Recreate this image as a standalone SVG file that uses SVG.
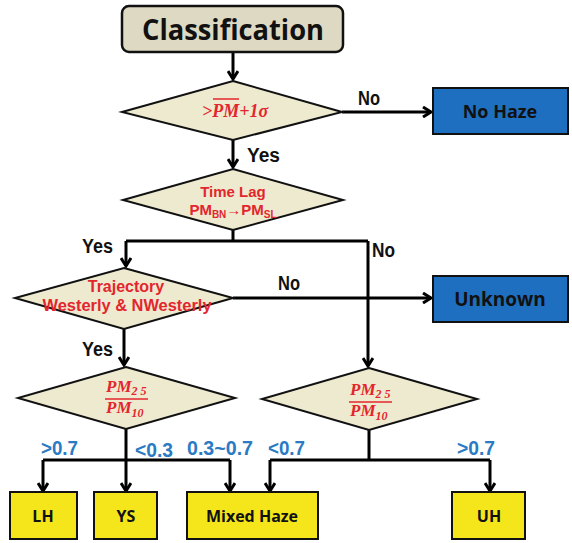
<svg xmlns="http://www.w3.org/2000/svg" width="572" height="543" viewBox="0 0 572 543">
<defs>
<style>
.dia{fill:#eeead0;stroke:#111;stroke-width:2}
.blue{fill:#1f6fc1;stroke:#111;stroke-width:2}
.yel{fill:#f4e61a;stroke:#111;stroke-width:2}
.con{fill:none;stroke:#000;stroke-width:3}
.arr{fill:none;stroke:#000;stroke-width:3;marker-end:url(#ah)}
.lbl{font-family:"Liberation Sans",Arial,sans-serif;font-weight:bold;font-size:20px;fill:#111}
.val{font-family:"Liberation Sans",Arial,sans-serif;font-weight:bold;font-size:20px;fill:#2a7ac4}
.box{font-family:"Open Sans","Noto Sans",sans-serif;font-weight:bold;fill:#111;text-anchor:middle}
.red{font-family:"Liberation Sans",Arial,sans-serif;font-weight:bold;fill:#e3262d;text-anchor:middle}
.math{font-family:"Liberation Serif","Times New Roman",serif;font-weight:bold;font-style:italic;fill:#e3262d}
</style>
<marker id="ah" markerWidth="12" markerHeight="12" viewBox="0 0 12 12" refX="10" refY="6" orient="auto" markerUnits="userSpaceOnUse">
<path d="M2,1 L10,6 L2,11" fill="none" stroke="#000" stroke-width="3"/>
</marker>
</defs>

<g id="connectors">
<line class="arr" x1="233" y1="52" x2="233" y2="79"/>
<line class="arr" x1="342" y1="112" x2="431" y2="112"/>
<line class="arr" x1="233" y1="140" x2="233" y2="167"/>
<polyline class="con" points="233,230 233,241"/>
<polyline class="con" points="126,241 368,241"/>
<line class="arr" x1="126" y1="241" x2="126" y2="266"/>
<line class="arr" x1="368" y1="241" x2="368" y2="366"/>
<line class="arr" x1="233" y1="298" x2="431" y2="298"/>
<line class="arr" x1="124" y1="329" x2="124" y2="365"/>
<polyline class="con" points="126,429 126,460"/>
<polyline class="con" points="43,460 230,460"/>
<line class="arr" x1="43" y1="460" x2="43" y2="491"/>
<line class="arr" x1="126" y1="460" x2="126" y2="491"/>
<line class="arr" x1="230" y1="460" x2="230" y2="491"/>
<polyline class="con" points="369,430 369,460"/>
<polyline class="con" points="270,460 490,460"/>
<line class="arr" x1="270" y1="460" x2="270" y2="491"/>
<line class="arr" x1="490" y1="460" x2="490" y2="491"/>
<text class="lbl" x="358" y="105" textLength="22" lengthAdjust="spacingAndGlyphs">No</text>
<text class="lbl" x="247" y="162" textLength="33" lengthAdjust="spacingAndGlyphs">Yes</text>
<text class="lbl" x="82" y="253" textLength="31" lengthAdjust="spacingAndGlyphs">Yes</text>
<text class="lbl" x="372" y="257" textLength="23" lengthAdjust="spacingAndGlyphs">No</text>
<text class="lbl" x="278" y="290" textLength="22" lengthAdjust="spacingAndGlyphs">No</text>
<text class="lbl" x="82" y="356" textLength="31" lengthAdjust="spacingAndGlyphs">Yes</text>
<text class="val" x="41" y="455" textLength="37" lengthAdjust="spacingAndGlyphs">&gt;0.7</text>
<text class="val" x="135" y="457" textLength="38" lengthAdjust="spacingAndGlyphs">&lt;0.3</text>
<text class="val" x="187" y="455" textLength="66" lengthAdjust="spacingAndGlyphs">0.3~0.7</text>
<text class="val" x="268" y="455" textLength="37" lengthAdjust="spacingAndGlyphs">&lt;0.7</text>
<text class="val" x="457" y="455" textLength="38" lengthAdjust="spacingAndGlyphs">&gt;0.7</text>
</g>

<g id="classification">
<rect x="122" y="6" width="221" height="46" rx="7" fill="#ddd9c3" stroke="#111" stroke-width="2.5"/>
<text class="box" x="233" y="40" font-size="29" textLength="182" lengthAdjust="spacingAndGlyphs">Classification</text>
</g>

<g id="d1">
<polygon class="dia" points="233,81 342,112 233,140 122,112"/>
<text class="math" x="202" y="117" font-size="18">&gt;PM+1σ</text>
<line x1="213" y1="99" x2="239" y2="99" stroke="#e3262d" stroke-width="1.5"/>
</g>

<g id="nohaze">
<rect class="blue" x="433" y="88" width="135" height="46"/>
<text class="box" x="500" y="118" font-size="18">No Haze</text>
</g>

<g id="d2">
<polygon class="dia" points="233,169 343,200 233,230 123,200"/>
<text class="red" x="233" y="197" font-size="15">Time Lag</text>
<text class="red" x="233" y="215" font-size="15">PM<tspan font-size="10" dy="3">BN</tspan><tspan dy="-3">→PM</tspan><tspan font-size="10" dy="3">SL</tspan></text>
</g>

<g id="d3">
<polygon class="dia" points="124,268 233,298 124,329 15,298"/>
<text class="red" x="126" y="292" font-size="16">Trajectory</text>
<text class="red" x="127" y="311" font-size="16" textLength="169" lengthAdjust="spacingAndGlyphs">Westerly &amp; NWesterly</text>
</g>

<g id="unknown">
<rect class="blue" x="433" y="276" width="135" height="46"/>
<text class="box" x="500" y="306" font-size="19">Unknown</text>
</g>

<g id="d5">
<polygon class="dia" points="126,367 235,398 126,429 18,398"/>
<text class="math" x="106" y="392" font-size="17">PM<tspan font-size="12" dy="3">2 5</tspan></text>
<line x1="105" y1="399" x2="148" y2="399" stroke="#e3262d" stroke-width="1.5"/>
<text class="math" x="106" y="413" font-size="17">PM<tspan font-size="12" dy="4">10</tspan></text>
</g>

<g id="d6">
<polygon class="dia" points="369,368 477,399 369,430 262,399"/>
<text class="math" x="350" y="395" font-size="17">PM<tspan font-size="12" dy="3">2 5</tspan></text>
<line x1="349" y1="402" x2="392" y2="402" stroke="#e3262d" stroke-width="1.5"/>
<text class="math" x="350" y="416" font-size="17">PM<tspan font-size="12" dy="4">10</tspan></text>
</g>

<g id="lh">
<rect class="yel" x="10" y="492" width="67" height="47"/>
<text class="box" x="43" y="522" font-size="16">LH</text>
</g>
<g id="ys">
<rect class="yel" x="94" y="492" width="63" height="47"/>
<text class="box" x="126" y="522" font-size="16">YS</text>
</g>
<g id="mixed">
<rect class="yel" x="187" y="492" width="131" height="47"/>
<text class="box" x="252" y="522" font-size="16">Mixed Haze</text>
</g>
<g id="uh">
<rect class="yel" x="452" y="492" width="73" height="47"/>
<text class="box" x="489" y="522" font-size="16">UH</text>
</g>
</svg>
